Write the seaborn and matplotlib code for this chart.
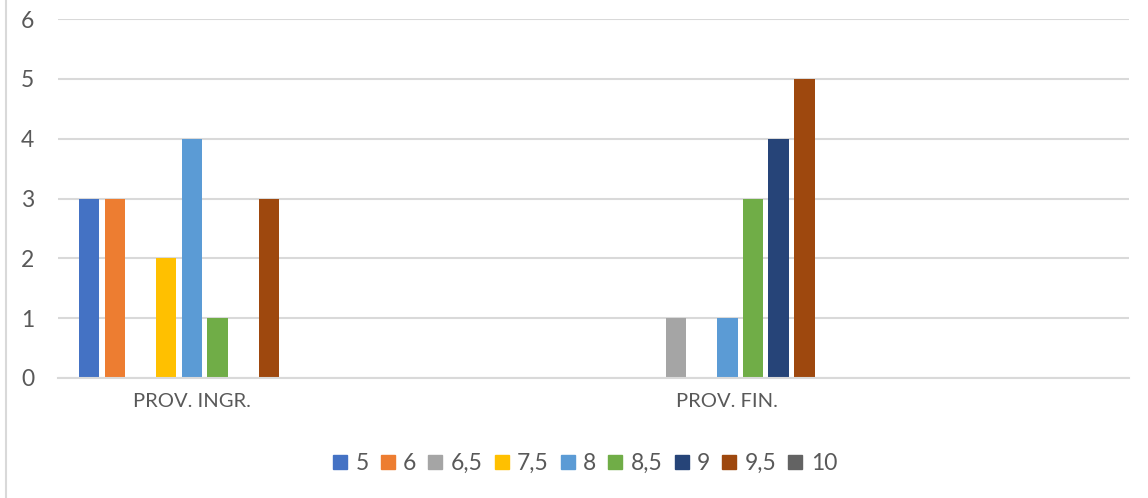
import matplotlib
matplotlib.use("Agg")
import matplotlib.pyplot as plt
import matplotlib.lines as mlines
import seaborn as sns
import pandas as pd

categories = ["PROV. INGR.", "_blank1", "PROV. FIN.", "_blank2"]
category_labels = ["PROV. INGR.", "", "PROV. FIN.", ""]
series = ["5", "6", "6,5", "7,5", "8", "8,5", "9", "9,5", "10"]
prov_ingr = [3, 3, 0, 2, 4, 1, 0, 3, 0]
prov_fin = [0, 0, 1, 0, 1, 3, 4, 5, 0]
colors = ["#4472C4", "#ED7D31", "#A5A5A5", "#FFC000", "#5B9BD5",
          "#70AD47", "#264478", "#9E480E", "#636363"]
y_ticks = [0, 1, 2, 3, 4, 5, 6]

rows = []
for s, v in zip(series, prov_ingr):
    rows.append({"cat": categories[0], "serie": s, "val": v})
for s, v in zip(series, prov_fin):
    rows.append({"cat": categories[2], "serie": s, "val": v})
df = pd.DataFrame(rows)

sns.set_theme(style="white")
plt.rcParams["font.family"] = ["Lato", "DejaVu Sans"]
text_color = "#595959"

fig = plt.figure(figsize=(11.48, 4.98), dpi=100)
ax = fig.add_axes([0.0505, 0.241, 0.9329, 0.7207])

sns.barplot(data=df, x="cat", y="val", hue="serie", order=categories,
            hue_order=series, palette=colors, width=0.863, gap=0.2,
            errorbar=None, ax=ax, saturation=1, legend=False, linewidth=0)

ax.set_ylim(0, 6)
ax.set_xlim(-0.5, 3.5)
ax.set_yticks(y_ticks)
ax.set_yticklabels([str(t) for t in y_ticks], color=text_color, fontsize=16.5)
ax.set_xticks(range(len(categories)))
ax.set_xticklabels(category_labels, color=text_color, fontsize=14.5)
ax.tick_params(axis="both", length=0)
ax.tick_params(axis="y", pad=17)
ax.tick_params(axis="x", pad=11)
ax.set_xlabel("")
ax.set_ylabel("")
ax.grid(axis="y", color="#D9D9D9", linewidth=1.5)
ax.set_axisbelow(True)
for sp in ["top", "right", "left"]:
    ax.spines[sp].set_visible(False)
ax.spines["bottom"].set_color("#D9D9D9")
ax.spines["bottom"].set_linewidth(1.5)

handles = [mlines.Line2D([], [], marker="s", linestyle="none", markersize=10,
                         markerfacecolor=c, markeredgecolor=c) for c in colors]
fig.legend(handles, series, loc="center", bbox_to_anchor=(0.509, 0.07),
           ncol=len(series), frameon=False, fontsize=16.5, handletextpad=0.3,
           columnspacing=0.45, labelcolor=text_color, handlelength=0.75)

fig.add_artist(mlines.Line2D([6 / 1148, 6 / 1148], [0, 1], color="#D9D9D9",
                             linewidth=1.5, transform=fig.transFigure))

fig.savefig("out.png", dpi=100, facecolor="white")
